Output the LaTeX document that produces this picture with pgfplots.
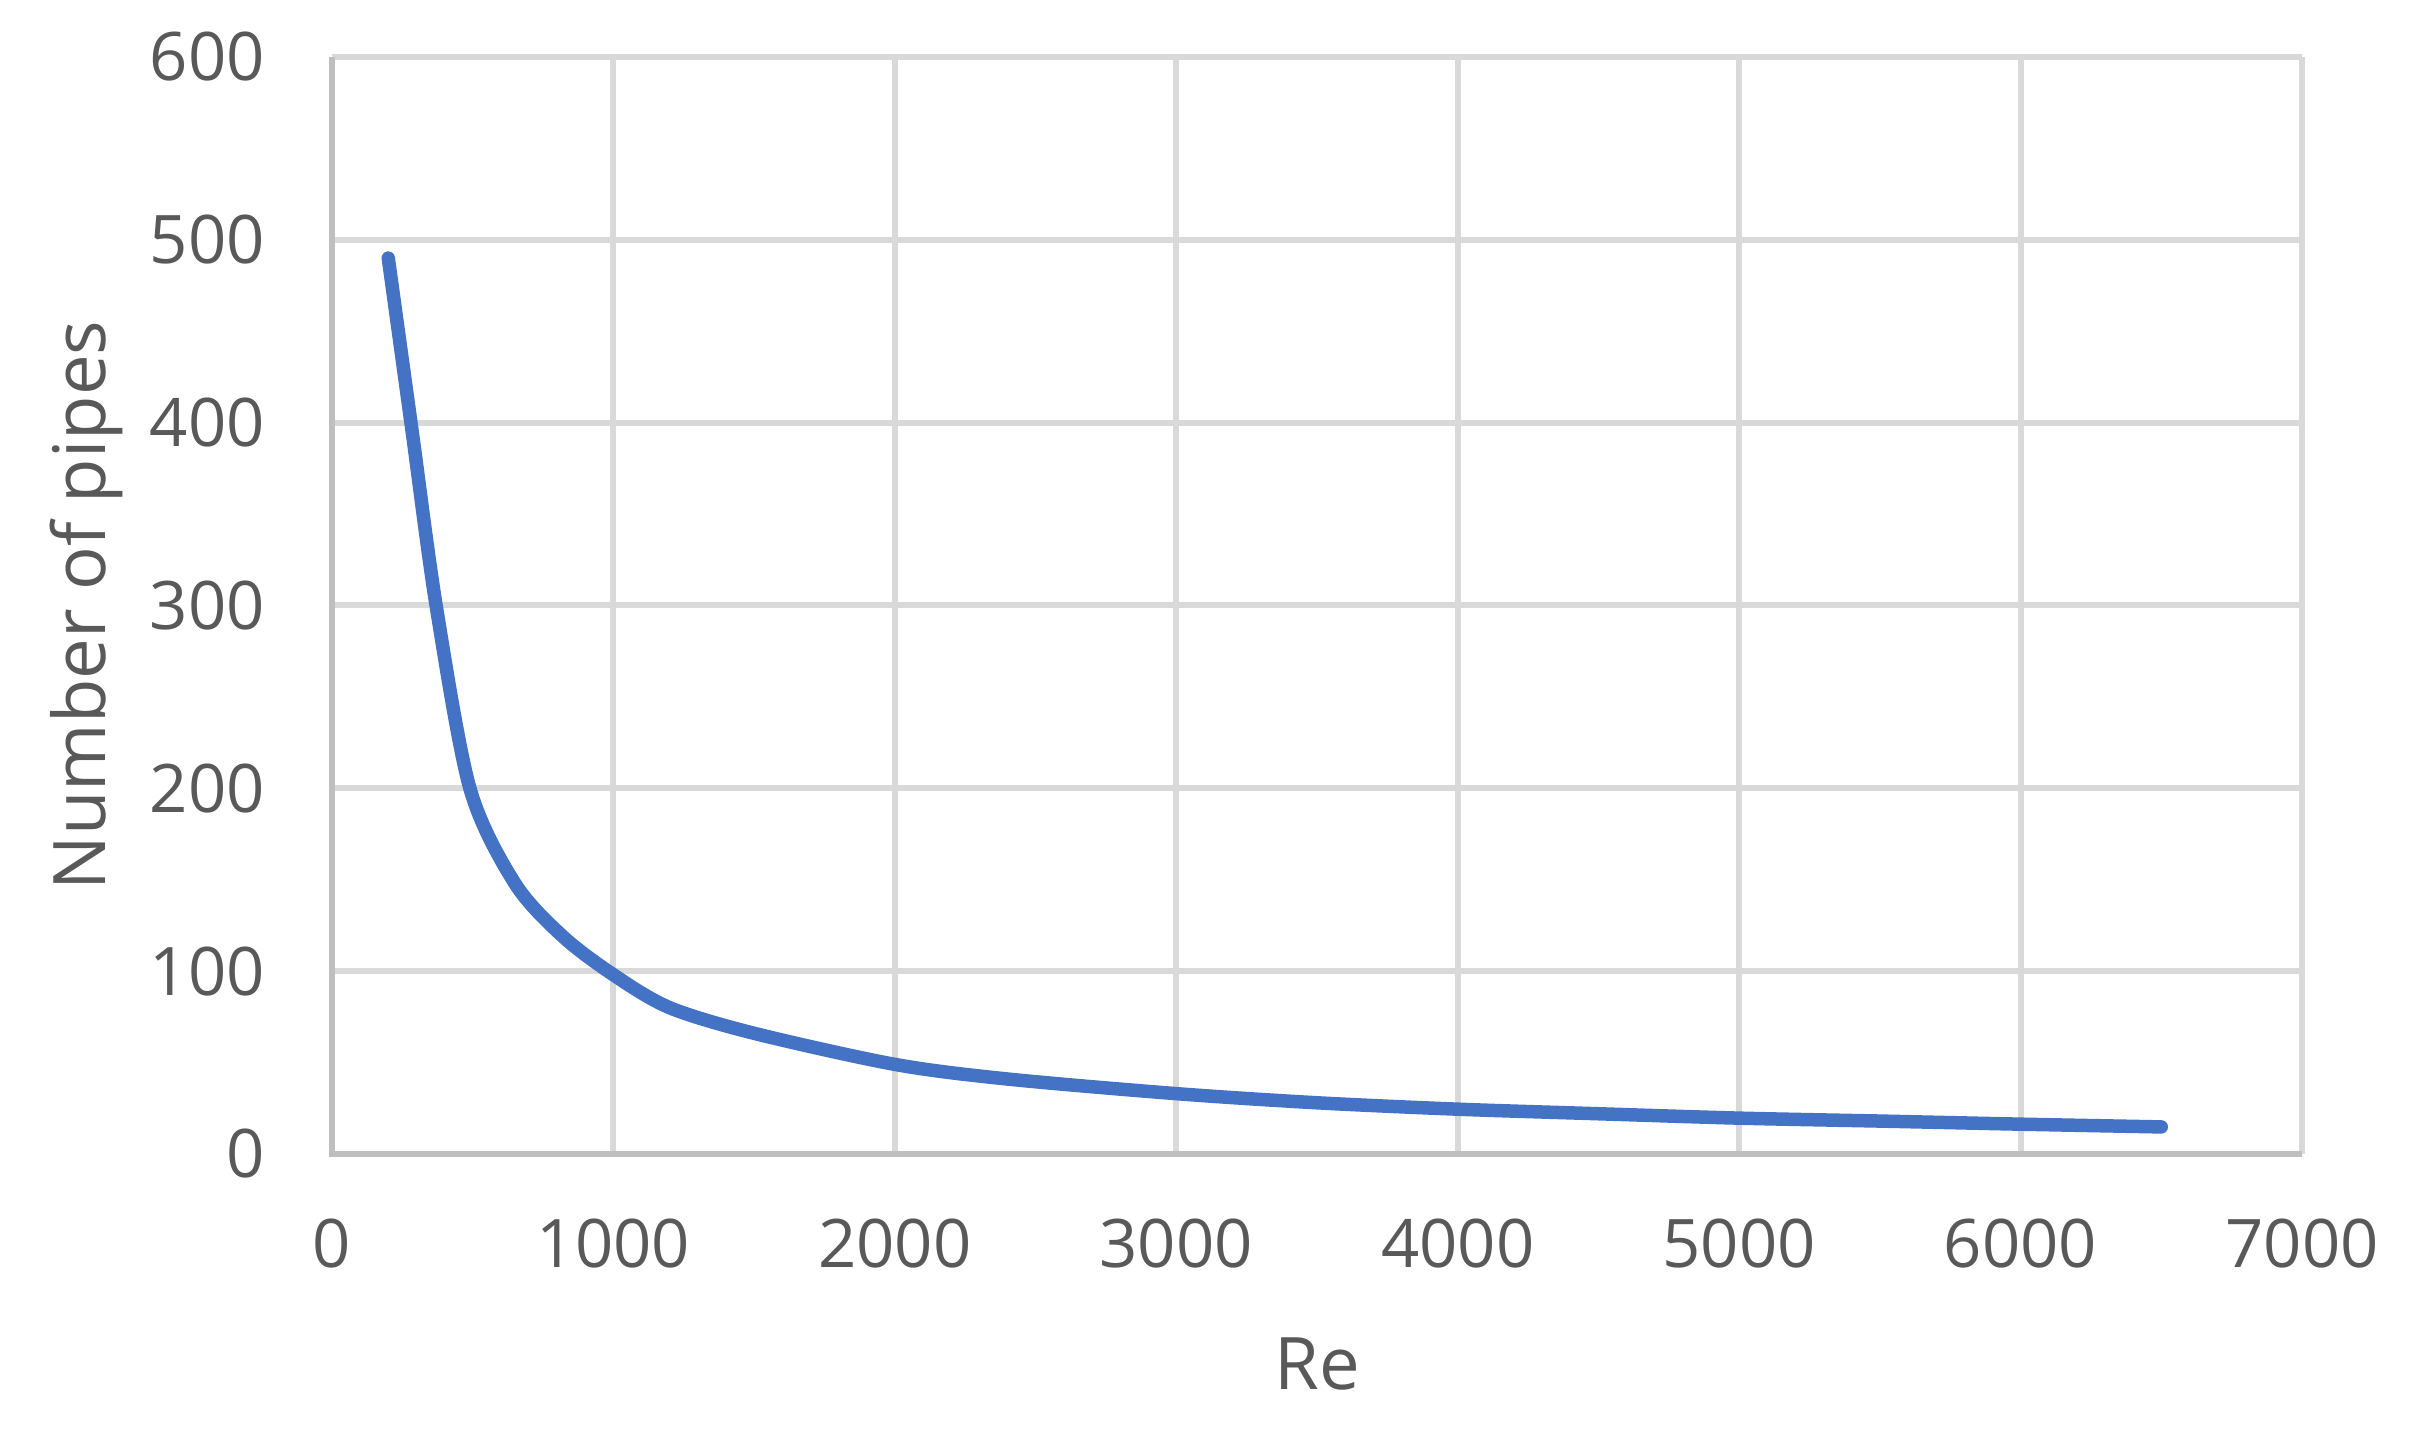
\documentclass[border=0pt]{standalone}
\usepackage{pgfplots}
\pgfplotsset{compat=1.18}
\usepackage{fontspec}
\setmainfont{Open Sans}
\definecolor{txt}{HTML}{595959}
\definecolor{gridc}{HTML}{D9D9D9}
\definecolor{axc}{HTML}{BFBFBF}
\definecolor{lineblue}{HTML}{4472C4}
\begin{document}
\begin{tikzpicture}
\begin{axis}[
  name=ax,
  width=394pt, height=219.4pt, scale only axis,
  xmin=0, xmax=7000, ymin=0, ymax=600,
  xtick={0,1000,...,7000}, ytick={0,100,...,600},
  grid=major,
  major grid style={gridc, line width=1.2pt},
  axis line style={draw=none},
  tick style={draw=none},
  ticklabel style={font=\fontsize{13.4}{15}\selectfont, text=txt},
  /pgf/number format/assume math mode=true,
  /pgf/number format/1000 sep={},
  xticklabel style={yshift=-9.5pt},
  yticklabel style={xshift=-9.9pt},
  xlabel={Re}, ylabel={Number of pipes},
  label style={font=\fontsize{14.5}{17}\selectfont, text=txt},
  xlabel style={yshift=-7pt},
  ylabel style={yshift=-1.4pt},
  clip=false,
]
\draw[axc, line width=1.35pt] (axis cs:0,600) -- (axis cs:0,0) -- (axis cs:7000,0);
\addplot[lineblue, line width=2.7pt, smooth, line cap=round] coordinates {
 (200,490) (285,395) (370,300) (490,200) (650,148) (820,119) (1000,98)
 (1200,80) (1500,66) (2000,49) (2400,41) (3000,33) (3500,28) (4000,24.5)
 (4500,22) (5000,19.6) (5500,18) (6000,16.3) (6500,14.8)
};
\end{axis}
\path[use as bounding box] ([shift={(-66.4pt,-56.6pt)}]ax.south west) rectangle ([shift={(23.4pt,11.4pt)}]ax.north east);
\end{tikzpicture}
\end{document}
